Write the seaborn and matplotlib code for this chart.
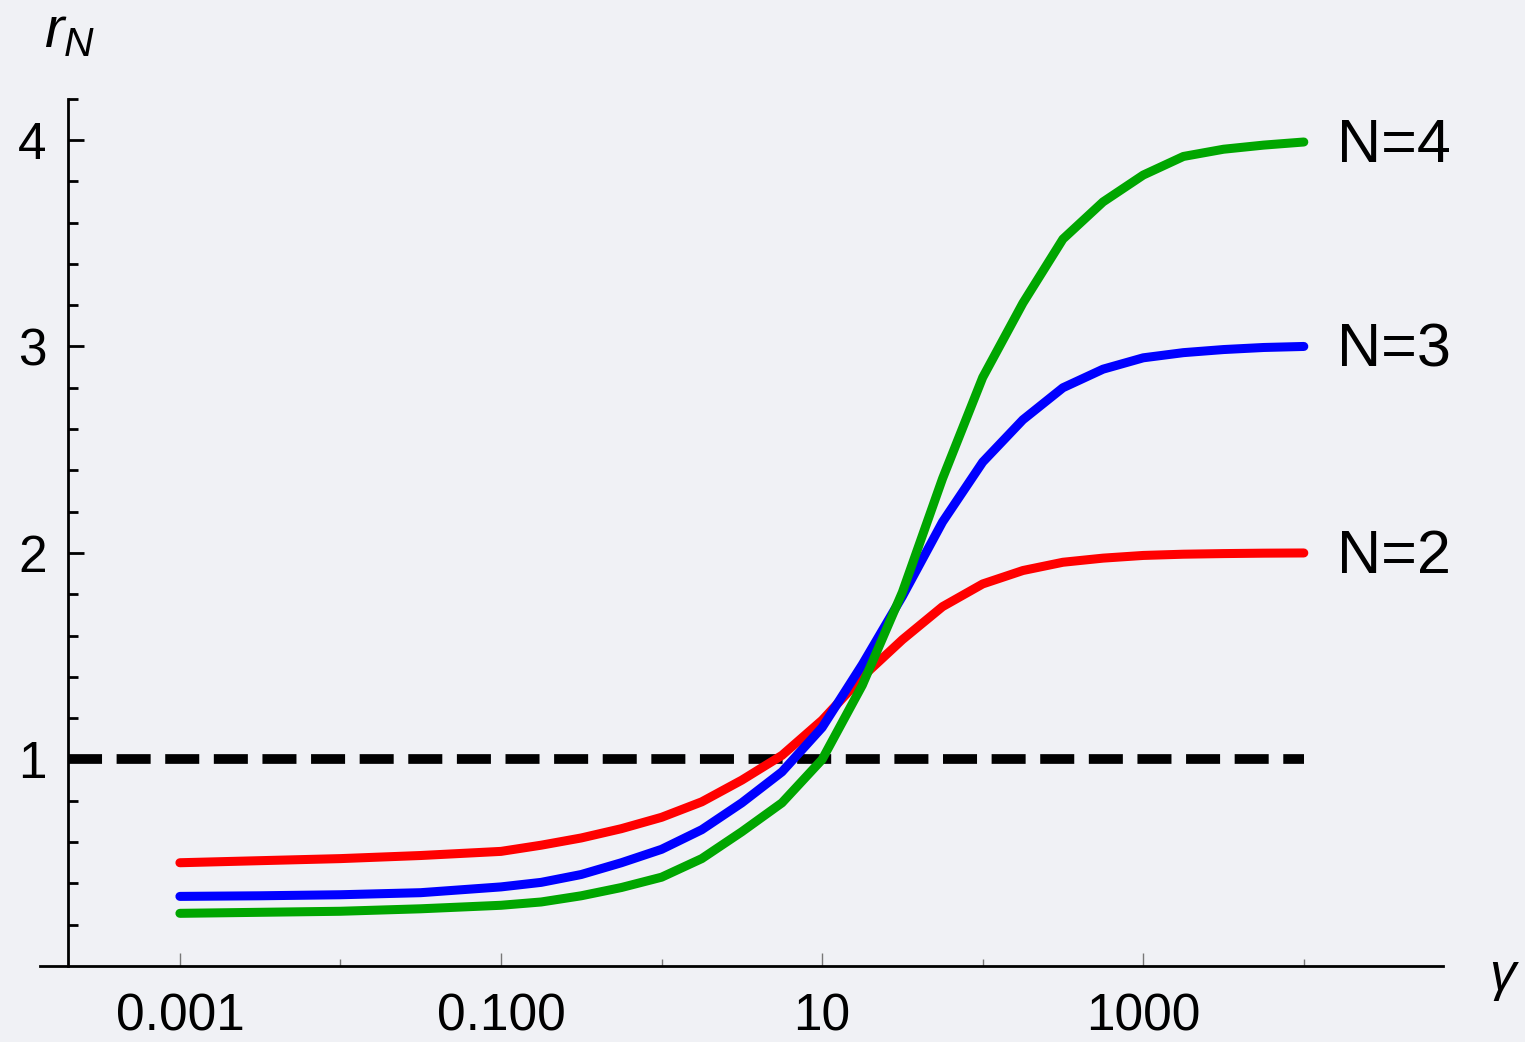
import numpy as np
import seaborn as sns
import pandas as pd
import matplotlib.pyplot as plt
from matplotlib.ticker import FixedLocator, FixedFormatter, NullFormatter

#values
gamma = [0.001, 0.00316, 0.01, 0.0316, 0.1, 0.178, 0.316, 0.562, 1, 1.78, 3.16,
         5.62, 10, 17.8, 31.6, 56.2, 100, 178, 316, 562, 1000, 1778, 3162,
         5623, 10000]
r2 = [0.50, 0.51, 0.52, 0.535, 0.555, 0.585, 0.62, 0.665, 0.72, 0.795, 0.90,
      1.02, 1.19, 1.40, 1.58, 1.74, 1.85, 1.915, 1.955, 1.975, 1.988, 1.994,
      1.997, 1.999, 2.0]
r3 = [0.337, 0.34, 0.345, 0.355, 0.383, 0.405, 0.443, 0.50, 0.565, 0.66, 0.79,
      0.94, 1.155, 1.46, 1.79, 2.15, 2.44, 2.645, 2.80, 2.89, 2.945, 2.97,
      2.985, 2.995, 3.0]
r4 = [0.255, 0.26, 0.265, 0.277, 0.294, 0.31, 0.34, 0.38, 0.43, 0.52, 0.65,
      0.79, 1.0, 1.36, 1.81, 2.36, 2.85, 3.21, 3.52, 3.70, 3.83, 3.92, 3.955,
      3.975, 3.99]
curve_labels = ["N=2", "N=3", "N=4"]
curve_colors = ["#ff0000", "#0000ff", "#00a600"]
ref_x = [0.0002, 10000]
ref_y = [1, 1]
xtick_vals = [0.001, 0.1, 10, 1000]
xtick_text = ["0.001", "0.100", "10", "1000"]
xminor_vals = [0.01, 1, 100, 10000]
ytick_vals = [1, 2, 3, 4]

df = pd.DataFrame({"gamma": gamma * 3,
                   "r": r2 + r3 + r4,
                   "N": [curve_labels[0]] * len(gamma) + [curve_labels[1]] * len(gamma)
                        + [curve_labels[2]] * len(gamma)})

sns.set_style("ticks")
plt.rcParams['font.family'] = ['Liberation Sans', 'DejaVu Sans']
plt.rcParams['text.color'] = 'black'
plt.rcParams['mathtext.fontset'] = 'custom'
plt.rcParams['mathtext.rm'] = 'Liberation Sans'
plt.rcParams['mathtext.it'] = 'Liberation Sans:italic'

bg = "#f0f1f5"
fig = plt.figure(figsize=(15.25, 10.42), dpi=100, facecolor=bg)
ax = fig.add_axes([0.02623, 0.07294, 0.92, 0.8324])
ax.set_facecolor(bg)
ax.set_xscale('log')

#dashed reference line
ax.plot(ref_x, ref_y, color='black', lw=7, dashes=(3.5, 1.5), dash_capstyle='butt')

for lab, col in zip(curve_labels, curve_colors):
    sub = df[df["N"] == lab]
    sns.lineplot(data=sub, x="gamma", y="r", color=col, linewidth=6.5, ax=ax,
                 legend=False)
    ax.text(1.6e4, sub["r"].iloc[-1] - 0.02, lab, fontsize=44, ha='left',
            va='center', color='black')

ax.set_xlim(1.345e-4, 7.36e4)
ax.set_ylim(0, 4.2)

for s in ["top", "right"]:
    ax.spines[s].set_visible(False)
ax.spines["left"].set_position(("data", 2.0e-4))
ax.spines["left"].set_linewidth(2)
ax.spines["bottom"].set_linewidth(2)
ax.spines["left"].set_color('black')
ax.spines["bottom"].set_color('black')

ax.xaxis.set_major_locator(FixedLocator(xtick_vals))
ax.xaxis.set_major_formatter(FixedFormatter(xtick_text))
ax.xaxis.set_minor_locator(FixedLocator(xminor_vals))
ax.xaxis.set_minor_formatter(NullFormatter())
ax.tick_params(axis='x', which='major', direction='in', length=9.5, width=1,
               color='#777777', labelcolor='black', labelsize=37, pad=19)
ax.tick_params(axis='x', which='minor', direction='in', length=5, width=1,
               color='#777777')

ax.set_yticks(ytick_vals)
ax.set_yticklabels([str(v) for v in ytick_vals])
ax.yaxis.set_minor_locator(FixedLocator([v for v in np.arange(2, 43, 2) / 10
                                          if abs(v - round(v)) > 0.01]))
ax.tick_params(axis='y', which='major', direction='in', length=11.5, width=2,
               color='black', labelcolor='black', labelsize=37, pad=15)
ax.tick_params(axis='y', which='minor', direction='in', length=7, width=2,
               color='black')
ax.set_xlabel("")
ax.set_ylabel("")

fig.text(44 / 1525, 1 - 32 / 1042, r"$r_N$", fontsize=42, ha='left', va='center')
fig.text(1504 / 1525, 1 - 978 / 1042, r"$\gamma$", fontsize=38, ha='center', va='center')

fig.savefig("out.png", dpi=100, facecolor=bg)
